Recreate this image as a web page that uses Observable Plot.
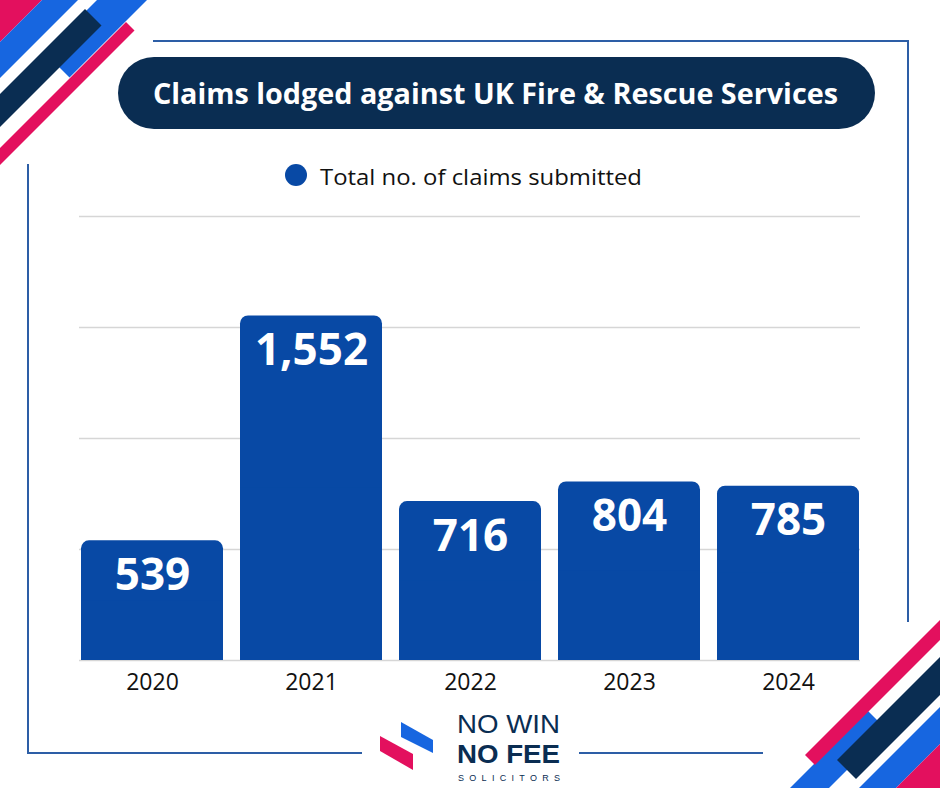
<!DOCTYPE html>
<html>
<head>
<meta charset="utf-8">
<script src="https://cdn.jsdelivr.net/npm/d3@7"></script>
<script src="https://cdn.jsdelivr.net/npm/@observablehq/plot@0.6"></script>
<style>
  html, body { margin: 0; padding: 0; background: #ffffff; }
  #page { position: relative; width: 940px; height: 788px; overflow: hidden; background: #ffffff; font-family: "Open Sans", sans-serif; }
  #deco { position: absolute; left: 0; top: 0; }
  #chart { position: absolute; left: 0; top: 196px; }
</style>
</head>
<body>
<div id="page">
  <svg id="deco" width="940" height="788" xmlns="http://www.w3.org/2000/svg"></svg>
  <div id="chart"></div>
</div>
<script>
// ---- data ----
const years = ["2020", "2021", "2022", "2023", "2024"];
const claims = [539, 1552, 716, 804, 785];
const yTicks = [0, 500, 1000, 1500, 2000];
const titleText = "Claims lodged against UK Fire & Rescue Services";
const legendText = "Total no. of claims submitted";

const data = years.map((year, i) => ({year, claims: claims[i]}));

const BAR = "#0849a5";
const NAVY = "#0a2d52";
const PINK = "#e3105e";
const BLUE = "#1766e0";
const LINE = "#2d5ea6";

// ---- decoration (frame, title pill, legend, logo, corner stripes) ----
const ns = "http://www.w3.org/2000/svg";
const deco = document.getElementById("deco");
function el(tag, attrs, text, parent) {
  const e = document.createElementNS(ns, tag);
  for (const k in attrs) e.setAttribute(k, attrs[k]);
  if (text != null) e.textContent = text;
  (parent || deco).appendChild(e);
  return e;
}
// stripes defined in rotated coords u = x+y, v = x-y
function band(u1, u2, v1, v2, fill) {
  const p = [[u1, v1], [u2, v1], [u2, v2], [u1, v2]]
    .map(([u, v]) => `${(u + v) / 2},${(u - v) / 2}`).join(" ");
  el("polygon", {points: p, fill});
}
// top-left corner
el("polygon", {points: "0,0 42,0 0,42", fill: PINK});
band(42, 78, -400, 400, BLUE);
band(97, 147, -8, 400, BLUE);
band(94, 127, -400, 76, NAVY);
band(148, 165, -400, 104, PINK);
// bottom-right corner
band(1578, 1617, -400, 157, BLUE);
band(1560, 1580, 50, 400, PINK);
band(1597, 1635, 77, 400, NAVY);
band(1647, 1684, -400, 400, BLUE);
el("polygon", {points: "940,744 940,788 896,788", fill: PINK});

// frame lines
const lineAttrs = {stroke: LINE, "stroke-width": 2, fill: "none"};
el("polyline", Object.assign({points: "153,41 908,41 908,622"}, lineAttrs));
el("polyline", Object.assign({points: "28,164 28,753 362,753"}, lineAttrs));
el("line", Object.assign({x1: 579, y1: 753, x2: 763, y2: 753}, lineAttrs));

// title pill
el("rect", {x: 118, y: 57, width: 757, height: 72, rx: 36, fill: NAVY});
el("text", {x: 153, y: 93, "dominant-baseline": "central", fill: "#ffffff",
  "font-family": "Open Sans", "font-weight": 700, "font-size": 28,
  textLength: 685, lengthAdjust: "spacingAndGlyphs"}, titleText);

// legend
el("circle", {cx: 296, cy: 175, r: 11, fill: BAR});
el("text", {x: 320, y: 176, "dominant-baseline": "central", fill: "#111111",
  "font-family": "Open Sans", "font-size": 22,
  textLength: 322, lengthAdjust: "spacingAndGlyphs"}, legendText);

// logo
el("polygon", {points: "401,722 433,740 433,753 401,737", fill: BLUE});
el("polygon", {points: "380,736 413,754 413,770 380,751", fill: PINK});
el("text", {x: 457, y: 733, fill: NAVY, "font-family": "Liberation Sans", "font-weight": 400,
  "font-size": 26, textLength: 103, lengthAdjust: "spacingAndGlyphs"}, "NO WIN");
el("text", {x: 457, y: 763, fill: NAVY, "font-family": "Liberation Sans", "font-weight": 700,
  "font-size": 26, textLength: 103, lengthAdjust: "spacingAndGlyphs"}, "NO FEE");
el("text", {x: 458, y: 781, fill: NAVY, "font-family": "Liberation Sans", "font-weight": 400,
  "font-size": 9, textLength: 102, lengthAdjust: "spacing"}, "SOLICITORS");

// ---- chart ----
const fmt = d3.format(",");
const chart = Plot.plot({
  width: 940,
  height: 510,
  marginLeft: 79,
  marginRight: 80,
  marginTop: 20,
  marginBottom: 46,
  style: {fontFamily: "Open Sans", background: "transparent", overflow: "visible"},
  x: {domain: years, paddingInner: 0.11, paddingOuter: 0, label: null},
  y: {domain: [0, 2000], axis: null},
  marks: [
    Plot.ruleY(yTicks, {stroke: "#d6d6d6", strokeWidth: 1.3}),
    Plot.barY(data, {x: "year", y: "claims", fill: BAR, rx: 8}),
    Plot.barY(data, {x: "year", y1: 0, y2: d => d.claims / 2, fill: BAR}),
    Plot.text(data, {x: "year", y: "claims", text: d => fmt(d.claims), dy: 35,
      fill: "#ffffff", fontSize: 44, fontWeight: 700}),
    Plot.axisX({tickSize: 0, tickPadding: 13, fontSize: 23, color: "#111111", label: null})
  ]
});
document.getElementById("chart").appendChild(chart);
</script>
</body>
</html>
